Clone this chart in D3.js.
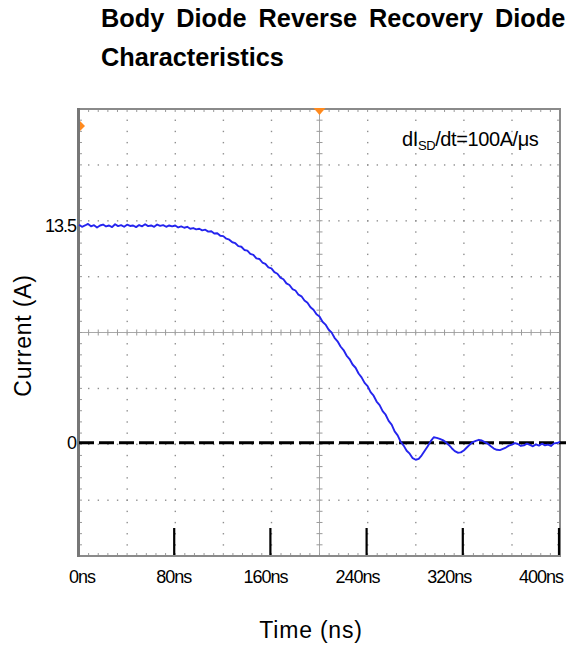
<!DOCTYPE html>
<html>
<head>
<meta charset="utf-8">
<script src="https://cdn.jsdelivr.net/npm/d3@7"></script>
<style>
  html, body { margin: 0; padding: 0; background: #fff; }
  svg { display: block; font-family: "Liberation Sans", Arial, sans-serif; }
</style>
</head>
<body>
<svg id="chart" width="577" height="648"></svg>
<script>
// ---- data ----
const timeNs = [0,2.5,5,7.5,10,12.5,15,17.5,20,22.5,25,27.5,30,32.5,35,37.5,40,42.5,45,47.5,
  50,52.5,55,57.5,60,62.5,65,67.5,70,72.5,75,77.5,80,82.5,85,87.5,90,92.5,95,97.5,
  100,102.5,105,107.5,110,112.5,115,117.5,120,122.5,125,127.5,130,132.5,135,137.5,140,142.5,145,147.5,
  150,152.5,155,157.5,160,162.5,165,167.5,170,172.5,175,177.5,180,182.5,185,187.5,190,192.5,195,197.5,
  200,202.5,205,207.5,210,212.5,215,217.5,220,222.5,225,227.5,230,232.5,235,237.5,240,242.5,245,247.5,
  250,252.5,255,257.5,260,262.5,265,267.5,270,272.5,275,277.5,280,282.5,285,287.5,290,292.5,295,297.5,
  300,302.5,305,307.5,310,312.5,315,317.5,320,322.5,325,327.5,330,332.5,335,337.5,340,342.5,345,347.5,
  350,352.5,355,357.5,360,362.5,365,367.5,370,372.5,375,377.5,380,382.5,385,387.5,390,392.5,395,397.5,400];
const currentA = [13.55,13.42,13.5,13.6,13.45,13.52,13.38,13.5,13.56,13.44,13.5,13.4,13.58,13.46,13.52,13.42,13.55,13.47,13.5,13.4,
  13.53,13.45,13.58,13.46,13.5,13.42,13.56,13.48,13.52,13.42,13.5,13.45,13.5,13.38,13.44,13.36,13.42,13.3,13.34,13.26,
  13.3,13.2,13.24,13.12,13.14,13.0,13.02,12.86,12.84,12.68,12.62,12.46,12.4,12.22,12.18,11.98,11.94,11.74,11.68,11.46,
  11.42,11.2,11.12,10.9,10.84,10.6,10.5,10.26,10.16,9.9,9.8,9.55,9.46,9.2,9.1,8.84,8.7,8.42,8.26,7.98,
  7.84,7.52,7.34,7.04,6.86,6.52,6.3,5.98,5.76,5.42,5.2,4.86,4.66,4.3,4.06,3.72,3.52,3.14,2.92,2.56,
  2.34,1.96,1.74,1.36,1.12,0.7,0.46,0.06,-0.18,-0.5,-0.68,-0.96,-1.06,-1.0,-0.78,-0.5,-0.22,0.1,0.34,0.3,
  0.24,0.16,0.04,-0.14,-0.34,-0.52,-0.62,-0.6,-0.48,-0.3,-0.12,0.04,0.12,0.18,0.14,0.04,-0.06,-0.22,-0.36,-0.44,
  -0.46,-0.38,-0.3,-0.18,-0.12,-0.02,-0.08,-0.2,-0.16,-0.06,-0.14,-0.22,-0.1,-0.18,-0.06,-0.16,-0.12,-0.2,-0.04,-0.02,0.06];
const yTickValues = [13.5, 0];
const yTickLabels = ["13.5", "0"];
const xLabelValues = [0, 80, 160, 240, 320, 400];
const xLabels = ["0ns", "80ns", "160ns", "240ns", "320ns", "400ns"];
const xMarkValues = [80, 160, 240, 320, 400];
const timeDomain = [0, 400];
const currentDomain = [-7.04, 20.74];

// ---- layout ----
const L = 79, R = 560, T = 109, B = 556;
const svg = d3.select("#chart");
const x = d3.scaleLinear().domain(timeDomain).range([L, R]);
const y = d3.scaleLinear().domain(currentDomain).range([B, T]);
const xLab = d3.scaleLinear().domain(timeDomain).range([82, 541]);

const nX = 10, nY = 8, minor = 5;
const dxDiv = (timeDomain[1] - timeDomain[0]) / nX;
const dyDiv = (currentDomain[1] - currentDomain[0]) / nY;

const g = svg.append("g");

// dotted grid (dots at each minor subdivision)
const vDots = [], hDots = [];
for (let i = 1; i < nX; i++) {
  if (i === nX / 2) continue;
  for (let j = 1; j < nY * minor; j++) vDots.push([timeDomain[0] + i * dxDiv, currentDomain[0] + j * dyDiv / minor]);
}
for (let j = 1; j < nY; j++) {
  if (j === nY / 2) continue;
  for (let i = 1; i < nX * minor; i++) hDots.push([timeDomain[0] + i * dxDiv / minor, currentDomain[0] + j * dyDiv]);
}
g.selectAll("rect.dot").data(vDots.concat(hDots)).enter().append("rect")
  .attr("x", d => x(d[0]) - 0.6).attr("y", d => y(d[1]) - 0.6)
  .attr("width", 1.4).attr("height", 1.4).attr("fill", "#8f8f8f");

// center cross
const cx = x(timeDomain[0] + nX / 2 * dxDiv), cy = y(currentDomain[0] + nY / 2 * dyDiv);
g.append("line").attr("x1", L).attr("x2", R).attr("y1", cy).attr("y2", cy)
  .attr("stroke", "#a8a8a8").attr("stroke-width", 1);
g.append("line").attr("x1", cx).attr("x2", cx).attr("y1", T).attr("y2", B)
  .attr("stroke", "#a8a8a8").attr("stroke-width", 1);
const hTicks = d3.range(1, nX * minor).map(i => timeDomain[0] + i * dxDiv / minor);
const vTicks = d3.range(1, nY * minor).map(j => currentDomain[0] + j * dyDiv / minor);
g.selectAll("line.hct").data(hTicks).enter().append("line")
  .attr("x1", d => x(d)).attr("x2", d => x(d)).attr("y1", cy - 3).attr("y2", cy + 3)
  .attr("stroke", "#9a9a9a").attr("stroke-width", 1);
g.selectAll("line.vct").data(vTicks).enter().append("line")
  .attr("x1", cx - 3).attr("x2", cx + 3).attr("y1", d => y(d)).attr("y2", d => y(d))
  .attr("stroke", "#9a9a9a").attr("stroke-width", 1);

// frame edge ticks
g.selectAll("line.tt").data(hTicks).enter().append("line")
  .attr("x1", d => x(d)).attr("x2", d => x(d)).attr("y1", T).attr("y2", T + 3)
  .attr("stroke", "#9a9a9a");
g.selectAll("line.bt").data(hTicks).enter().append("line")
  .attr("x1", d => x(d)).attr("x2", d => x(d)).attr("y1", B).attr("y2", B - 3)
  .attr("stroke", "#9a9a9a");
g.selectAll("line.lt").data(vTicks).enter().append("line")
  .attr("x1", L).attr("x2", L + 3).attr("y1", d => y(d)).attr("y2", d => y(d))
  .attr("stroke", "#9a9a9a");
g.selectAll("line.rt").data(vTicks).enter().append("line")
  .attr("x1", R).attr("x2", R - 3).attr("y1", d => y(d)).attr("y2", d => y(d))
  .attr("stroke", "#9a9a9a");

// frame
g.append("rect").attr("x", L).attr("y", T).attr("width", R - L).attr("height", B - T)
  .attr("fill", "none").attr("stroke", "#8a8a8a").attr("stroke-width", 2);
g.append("line").attr("x1", L - 0.5).attr("x2", L - 0.5).attr("y1", T - 1).attr("y2", B + 1)
  .attr("stroke", "#777").attr("stroke-width", 3);

// black time marks
g.selectAll("line.mark").data(xMarkValues).enter().append("line")
  .attr("x1", d => x(d) - 1).attr("x2", d => x(d) - 1).attr("y1", B - 28).attr("y2", B - 1)
  .attr("stroke", "#000").attr("stroke-width", 2.2);

// zero dashed line
g.append("line").attr("x1", L).attr("x2", R + 6).attr("y1", y(0)).attr("y2", y(0))
  .attr("stroke", "#000").attr("stroke-width", 3).attr("stroke-dasharray", "15,5");

// current trace
const line = d3.line().x((d, i) => x(timeNs[i])).y(d => y(d));
g.append("path").datum(currentA).attr("d", line)
  .attr("fill", "none").attr("stroke", "#2424ee").attr("stroke-width", 1.9)
  .attr("stroke-linejoin", "round");

// orange markers
g.append("path").attr("d", `M${L + 1},${T + 12} L${L + 6},${T + 17} L${L + 1},${T + 22} Z`).attr("fill", "#ff8a1e");
g.append("path").attr("d", `M${cx - 6},${T - 1} L${cx + 6},${T - 1} L${cx},${T + 6} Z`).attr("fill", "#ff8a1e");

// y tick labels
svg.selectAll("text.yt").data(yTickValues).enter().append("text")
  .attr("x", 76).attr("y", d => y(d) + 6.5).attr("text-anchor", "end")
  .attr("font-size", 18).attr("letter-spacing", -1)
  .text((d, i) => yTickLabels[i]);

// x labels
svg.selectAll("text.xt").data(xLabelValues).enter().append("text")
  .attr("x", d => xLab(d)).attr("y", 583).attr("text-anchor", "middle")
  .attr("font-size", 18).attr("letter-spacing", -1)
  .text((d, i) => xLabels[i]);

// axis titles
svg.append("text").attr("x", 311).attr("y", 638).attr("text-anchor", "middle")
  .attr("font-size", 23).attr("letter-spacing", 0.8).text("Time (ns)");
svg.append("text").attr("transform", "translate(31,335.5) rotate(-90)")
  .attr("text-anchor", "middle").attr("font-size", 23).attr("letter-spacing", 0.8).text("Current (A)");

// annotation
const ann = svg.append("text").attr("x", 402).attr("y", 146).attr("font-size", 20).attr("letter-spacing", -0.4);
ann.append("tspan").text("dI");
ann.append("tspan").attr("font-size", 13).attr("dy", 4).text("SD");
ann.append("tspan").attr("dy", -4).text("/dt=100A/\u03bcs");

// title
const title = svg.append("text").attr("x", 101).attr("font-size", 25.3).attr("font-weight", "bold");
title.append("tspan").attr("x", 101).attr("y", 27).attr("word-spacing", 5).text("Body Diode Reverse Recovery Diode");
title.append("tspan").attr("x", 101).attr("y", 66).text("Characteristics");
</script>
</body>
</html>
